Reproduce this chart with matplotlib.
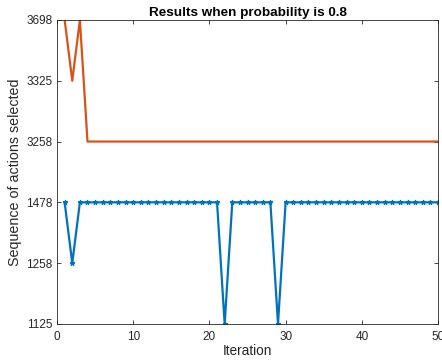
import matplotlib
matplotlib.use('Agg')
import matplotlib.pyplot as plt
import numpy as np

plt.rcParams['font.family'] = ['Liberation Sans', 'DejaVu Sans']

# distinct action sequences, shown on evenly spaced levels
seq_labels = ['1125', '1258', '1478', '3258', '3325', '3698']

iterations = list(range(1, 51))

# blue run: sequence chosen at every iteration
blue_seq = ['1478', '1258'] + ['1478'] * 19 + ['1125'] + ['1478'] * 6 + ['1125'] + ['1478'] * 21

# orange run
orange_seq = ['3698', '3325', '3698'] + ['3258'] * 47

level = {s: i + 1 for i, s in enumerate(seq_labels)}
blue_y = [level[s] for s in blue_seq]
orange_y = [level[s] for s in orange_seq]

fig = plt.figure(figsize=(4.42, 3.62), dpi=100)
ax = fig.add_axes([0.129, 0.105, 0.862, 0.840])

ax.plot(iterations, blue_y, color='#0072BD', lw=1.6, marker='*', ms=3.5, mew=0.8)
ax.plot(iterations, orange_y, color='#D95319', lw=1.6)

ax.set_xlim(0, 50)
ax.set_ylim(1, 6)
ax.set_xticks([0, 10, 20, 30, 40, 50])
ax.set_yticks(range(1, len(seq_labels) + 1))
ax.set_yticklabels(seq_labels)

ax.tick_params(direction='in', top=True, right=True, labelsize=8.5, length=3, width=0.6,
               color='#262626', labelcolor='#262626')
ax.tick_params(axis='x', pad=5)
for sp in ax.spines.values():
    sp.set_linewidth(0.6)
    sp.set_color('#262626')

ax.set_title('Results when probability is 0.8', fontsize=9.7, fontweight='bold', pad=3)
ax.set_xlabel('Iteration', fontsize=9.8, labelpad=1, color='#262626')
ax.set_ylabel('Sequence of actions selected', fontsize=10.3, labelpad=3, color='#262626')

fig.savefig('out.png', dpi=100)
